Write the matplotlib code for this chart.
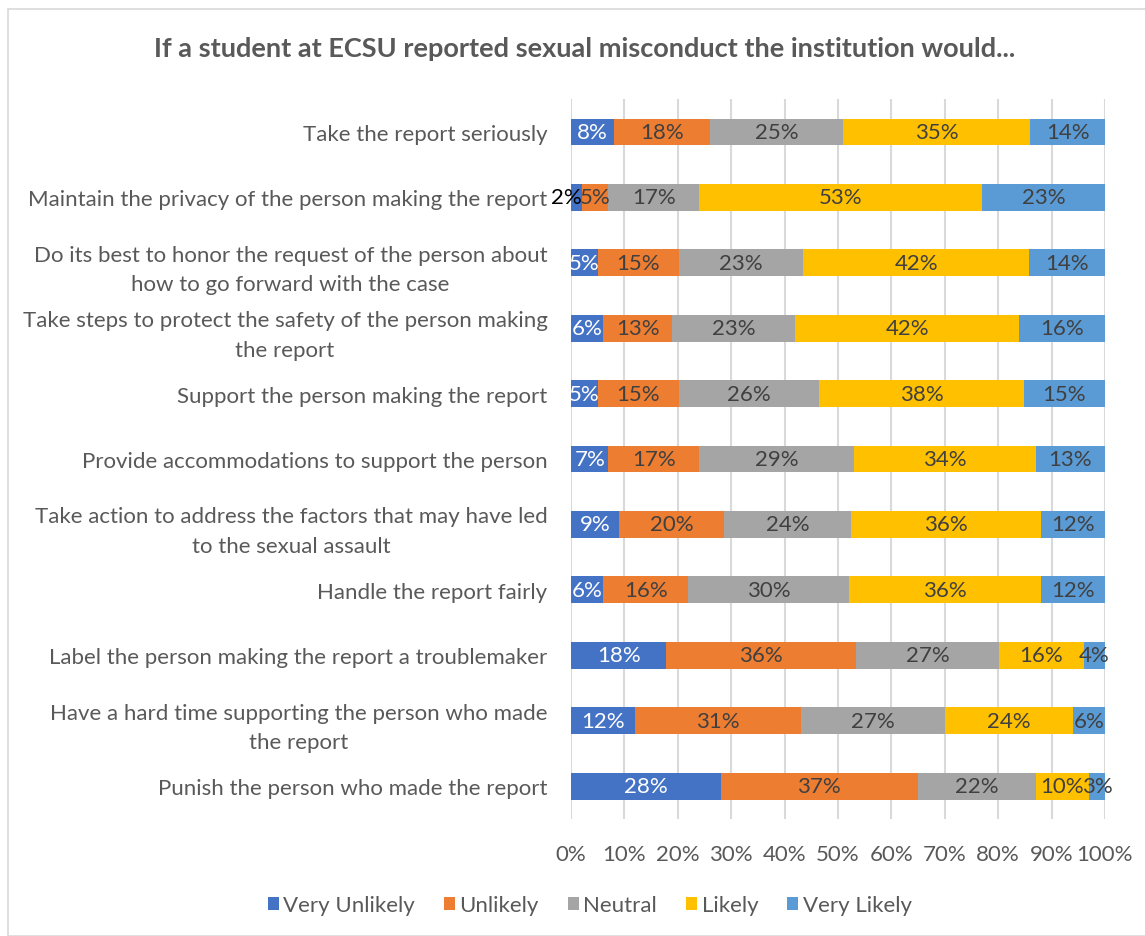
import numpy as np
import matplotlib.pyplot as plt
from matplotlib.patches import Rectangle

plt.rcParams['font.family'] = ['Lato', 'DejaVu Sans']

questions = [
    "Take the report seriously",
    "Maintain the privacy of the person making the report",
    "Do its best to honor the request of the person about\nhow to go forward with the case",
    "Take steps to protect the safety of the person making\nthe report",
    "Support the person making the report",
    "Provide accommodations to support the person",
    "Take action to address the factors that may have led\nto the sexual assault",
    "Handle the report fairly",
    "Label the person making the report a troublemaker",
    "Have a hard time supporting the person who made\nthe report",
    "Punish the person who made the report",
]
responses = ["Very Unlikely", "Unlikely", "Neutral", "Likely", "Very Likely"]
colors = ["#4472C4", "#ED7D31", "#A5A5A5", "#FFC000", "#5B9BD5"]

very_unlikely = [8, 2, 5, 6, 5, 7, 9, 6, 18, 12, 28]
unlikely      = [18, 5, 15, 13, 15, 17, 20, 16, 36, 31, 37]
neutral       = [25, 17, 23, 23, 26, 29, 24, 30, 27, 27, 22]
likely        = [35, 53, 42, 42, 38, 34, 36, 36, 16, 24, 10]
very_likely   = [14, 23, 14, 16, 15, 13, 12, 12, 4, 6, 3]

data = np.array([very_unlikely, unlikely, neutral, likely, very_likely], dtype=float)
# 100% stacked: scale each row to its own total
shares = data / data.sum(axis=0)

fig = plt.figure(figsize=(11.45, 9.37), dpi=100)
ax = fig.add_axes([0.4987, 0.125, 0.4663, 0.768])

fs = 16
y = np.arange(len(questions))
left = np.zeros(len(questions))
txt_colors = ["white", "#404040", "#404040", "#404040", "#404040"]
for k in range(5):
    ax.barh(y, shares[k], left=left, height=0.41, color=colors[k],
            label=responses[k], zorder=3)
    for i in range(len(questions)):
        lab = f"{int(data[k, i])}%"
        if k == 0 and data[k, i] < 4:
            # too thin to hold its label: let it hang off to the left
            ax.text(left[i] + shares[k, i], y[i], lab, ha="right", va="center",
                    fontsize=fs, color="black", zorder=4)
            continue
        ax.text(left[i] + shares[k, i] / 2, y[i], lab,
                ha="center", va="center", fontsize=fs, color=txt_colors[k], zorder=4)
    left += shares[k]

ax.set_ylim(len(questions) - 0.5, -0.5)
ax.set_xlim(0, 1)
ax.set_xticks(np.linspace(0, 1, 11))
ax.set_xticklabels([f"{p}%" for p in range(0, 101, 10)])
ax.set_yticks(y)
ax.set_yticklabels(questions, fontsize=fs, color="#595959", linespacing=1.6,
                   multialignment="center")
ax.tick_params(axis="x", labelsize=fs, labelcolor="#595959", length=0, pad=18)
ax.tick_params(axis="y", length=0, pad=17)
ax.grid(axis="x", color="#D9D9D9", linewidth=1.5, zorder=0)
for s in ax.spines.values():
    s.set_visible(False)

fig.suptitle("If a student at ECSU reported sexual misconduct the institution would...",
             x=0.511, y=0.96, fontsize=19.5, fontweight="bold", color="#595959")

fig.legend(loc="center", bbox_to_anchor=(0.515, 0.033), ncol=5, frameon=False,
           fontsize=fs, handlelength=0.5, handleheight=0.5, columnspacing=1.3,
           handletextpad=0.2, labelcolor="#595959")

fig.patches.append(Rectangle((8 / 1145, 0.0), 1.2, 1 - 10 / 937,
                             transform=fig.transFigure, fill=False,
                             edgecolor="#D9D9D9", linewidth=1.2))

fig.savefig("out.png", dpi=100)
